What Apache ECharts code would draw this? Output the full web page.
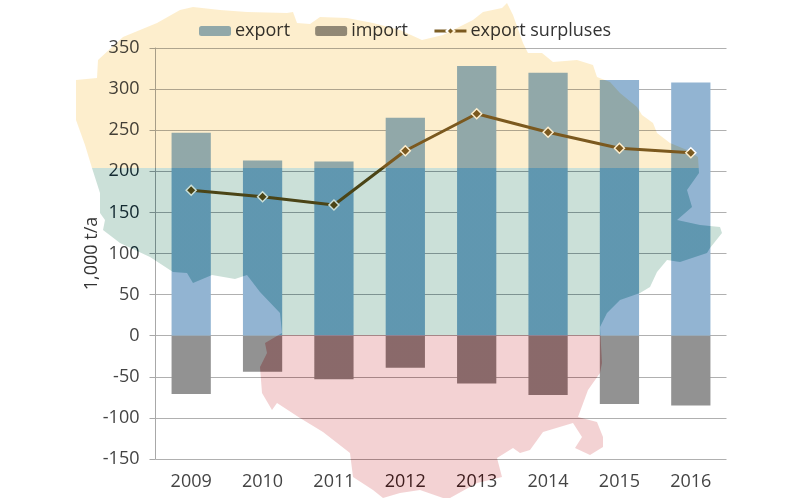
<!DOCTYPE html>
<html><head><meta charset="utf-8">
<style>html,body{margin:0;padding:0;background:#fff}#c{width:800px;height:500px}</style>
<script src="https://cdn.jsdelivr.net/npm/echarts@6/dist/echarts.min.js"></script>
</head><body><div id="c"></div>
<script>
const years = ['2009','2010','2011','2012','2013','2014','2015','2016'];
const exportValues = [247,213,212,265,328,320,311,308];
const importValues = [-71,-44,-53,-39,-58,-72,-83,-85];
const surplusValues = [177,169,159,225,270,247.5,228,222.5];
// Decorative background outline of the country (page pixels)
const mapOutline = [[76,80],[97,78],[98,60],[123,37],[157,23],[180,10],[193,7],[220,10],[247,12],[287,13],[293,12],[297,23],[310,24],[320,17],[347,18],[373,23],[400,30],[422,40],[443,35],[473,20],[483,12],[502,8],[507,3],[513,15],[523,43],[528,53],[542,53],[553,62],[577,60],[593,65],[597,77],[610,82],[620,93],[637,107],[642,115],[653,123],[657,133],[670,143],[687,150],[698,157],[699,173],[687,190],[692,207],[677,220],[700,225],[720,227],[722,233],[710,248],[707,253],[680,262],[667,260],[657,272],[650,287],[640,293],[620,300],[607,313],[600,327],[602,363],[600,373],[588,390],[578,417],[597,422],[603,437],[603,447],[590,455],[575,448],[582,437],[573,423],[543,432],[530,450],[520,453],[513,448],[497,458],[502,477],[477,483],[450,498],[443,498],[420,490],[400,493],[383,498],[373,490],[353,477],[350,453],[323,432],[300,418],[277,403],[272,410],[262,393],[260,367],[267,353],[265,343],[282,333],[280,313],[260,292],[247,275],[235,279],[212,275],[193,283],[187,273],[173,272],[150,257],[120,243],[103,230],[105,220],[100,213],[100,193],[92,168],[85,145],[76,120]];
const font = 'Open Sans';
const chart = echarts.init(document.getElementById('c'), null, {renderer:'canvas'});
const H = 500, y1 = 168/H, y2 = 335/H;
const bands = (a,b,c) => new echarts.graphic.LinearGradient(0,0,0,H,[
  {offset:0,color:a},{offset:y1,color:a},
  {offset:y1,color:b},{offset:y2,color:b},
  {offset:y2,color:c},{offset:1,color:c}],true);
chart.setOption({
  animation:false,
  backgroundColor:'#fff',
  textStyle:{fontFamily:font},
  grid:{left:155.5,top:48,width:571,bottom:41,containLabel:false},
  legend:{left:194,top:17,itemWidth:32,itemHeight:10,itemGap:25,
    textStyle:{fontSize:18,color:'#333',fontFamily:font,padding:[0,0,0,-1]},
    data:['export','import',{name:'export surpluses',lineStyle:{width:3}}]},
  xAxis:{type:'category',data:years,axisLine:{show:false,onZero:false},axisTick:{show:false},
    axisLabel:{fontSize:18,color:'#444',margin:14,fontFamily:font}},
  yAxis:{type:'value',min:-150,max:350,interval:50,
    name:'1,000 t/a',nameLocation:'middle',nameGap:55,nameRotate:90,nameMoveOverlap:false,
    nameTextStyle:{fontSize:18,color:'#333',fontFamily:font},
    axisLine:{show:true,lineStyle:{color:'#a8a8a8',width:1}},
    axisTick:{show:true,length:6,lineStyle:{color:'#a8a8a8'}},
    axisLabel:{fontSize:18,color:'#444',margin:16,fontFamily:font},
    splitLine:{show:true,lineStyle:{color:'#b0b0b0',width:1}}},
  series:[
    {name:'export',type:'bar',stack:'t',data:exportValues,barWidth:'55%',itemStyle:{color:'#92b4d2'}},
    {name:'import',type:'bar',stack:'t',data:importValues,barWidth:'55%',itemStyle:{color:'#929292'}},
    {name:'export surpluses',type:'line',data:surplusValues,symbol:'diamond',symbolSize:10,
      lineStyle:{color:'#7c5f26',width:3},
      itemStyle:{color:'#7c5f26',borderColor:'#fff',borderWidth:1.5}}
  ],
  graphic:[
    {type:'polygon',z:100,silent:true,shape:{points:mapOutline},
      style:{fill:bands('#ffffff','#cfe6f2','#fddbdb'),blend:'color-burn'}},
    {type:'polygon',z:101,silent:true,shape:{points:mapOutline},
      style:{fill:bands('#fdeecd','#cbe0d8','#f3d2d3'),blend:'multiply'}}
  ]
});
</script></body></html>
